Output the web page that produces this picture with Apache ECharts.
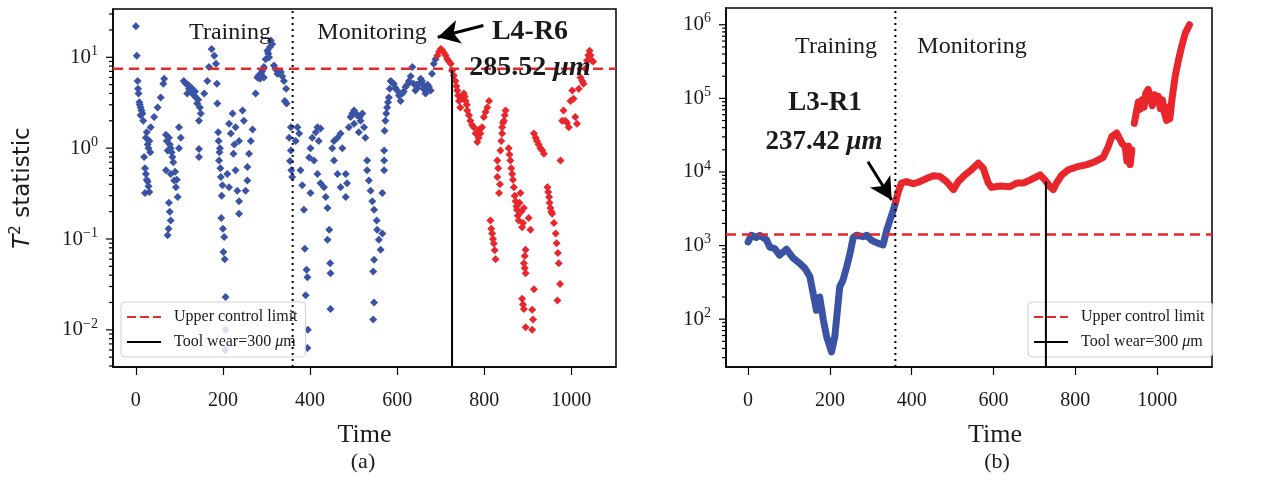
<!DOCTYPE html>
<html>
<head>
<meta charset="utf-8">
<script src="https://cdn.jsdelivr.net/npm/echarts@6/dist/echarts.min.js"></script>
<style>
  html, body { margin: 0; padding: 0; background: #fff; }
  #chart { width: 1279px; height: 484px; }
</style>
</head>
<body>
<div id="chart"></div>
<script>
// ---- data ----
var xTicks = [0, 200, 400, 600, 800, 1000];
var phaseSplit = 360;          // training / monitoring boundary
var uclA = 7.5, uclB = 1410;   // upper control limits
var wearA = [726, 7.2];        // tool wear = 300 um, (time, T2 at that time)
var wearB = [728, 7450];
var arrowA = [[798, 22.4], [693, 16.6]];
var arrowB = [[293, 13800], [351, 4170]];

// panel (a): scattered T2 values
var leftBlue = [
  [0,22],[2,10.4],[4,5.5],[5,4.5],[6,4.0],[8,3.2],[9,3.0],[11,2.8],[13,2.6],[15,2.4],[11,2.3],[17,2.0],
  [23,1.3],[25,1.5],[27,1.1],[29,1.0],[31,1.2],[33,0.9],[19,0.8],[21,0.6],
  [23,0.52],[25,0.45],[27,0.43],[29,0.38],[21,0.32],[31,0.33],[34,1.7],[42,2.2],[50,2.8],[57,3.6],[63,5.1],[65,5.8],
  [69,1.4],[71,1.2],[76,1.3],[78,1.1],[80,1.0],[73,0.94],[82,0.9],[84,0.8],[86,0.7],[69,0.57],[80,0.52],
  [90,0.55],[88,0.44],[94,0.45],[92,0.37],[96,0.29],
  [76,0.25],[78,0.2],[80,0.16],[75,0.13],[73,0.11],[99,1.7],[103,1.3],[99,1.0],
  [110,5.5],[115,5.1],[120,5.0],[122,4.5],[126,4.3],[128,4.6],[130,4.0],[134,3.8],[136,4.2],[138,3.6],
  [118,4.0],[141,3.1],[143,3.4],[147,2.8],[149,2.4],[145,2.0],[145,0.98],[145,0.8],
  [157,4.0],[164,5.5],[168,7.8],[174,12.3],[180,10.4],[184,8.5],[186,5.1],[187,3.1],
  [189,1.5],[190,1.2],[193,1.0],[192,0.9],[191,0.73],[194,0.6],[195,0.48],[199,0.39],[197,0.3],[196,0.17],
  [200,0.13],[203,0.105],[201,0.072],[204,0.06],
  [206,0.023],[206,0.01],[205,0.006],
  [214,1.85],[222,2.4],[229,1.7],[237,1.2],[245,2.6],[248,2.0],[218,1.45],[226,1.1],[224,0.87],[210,0.52],
  [214,0.37],[229,0.57],[233,0.34],[237,0.26],[237,0.19],[256,0.62],[260,0.87],[264,1.2],[268,1.6],
  [256,0.44],[252,0.34],
  [275,4.0],[279,6.0],[282,6.3],[285,5.8],[287,6.6],[290,7.0],[294,7.8],[294,6.0],[298,9.5],[302,11.8],
  [304,11],[306,10],[308,13],[310,15.3],[313,14],[317,8.1],[320,7.5],[325,6.6],[329,6.8],[333,6.9],
  [336,6.2],[340,5.5],[345,4.5],[342,3.3],[346,3.1],
  [356,1.7],[352,1.3],[356,0.94],[354,0.72],[357,0.57],[359,0.48],[371,1.7],[375,1.45],[367,1.2],
  [378,0.57],[382,0.39],[386,0.21],[388,0.078],[392,0.046],[394,0.038],[390,0.024],[395,0.01],[394,0.0063],
  [398,0.79],[401,1.0],[405,1.3],[413,1.5],[417,1.7],[424,1.65],[420,1.2],[409,0.73],[417,0.52],[401,0.32],
  [424,0.41],[432,0.37],[436,0.29],[440,0.22],[444,0.126],[440,0.098],[446,0.054],[447,0.042],[447,0.017],
  [451,1.0],[455,1.2],[463,1.3],[470,1.45],[474,1.0],[455,0.73],[463,0.52],[470,0.37],[482,0.52],
  [485,0.41],[482,0.29],[489,1.7],
  [493,2.2],[497,2.4],[501,2.6],[505,2.4],[508,2.3],[514,2.2],[516,2.0],[520,2.4],[524,1.7],[527,1.3],
  [501,1.85],[512,1.5],
  [531,0.73],[531,0.57],[535,0.44],[539,0.34],[543,0.26],[547,0.21],[553,0.16],[554,0.126],[558,0.098],
  [562,0.076],[566,0.115],[547,0.059],[545,0.044],[547,0.02],[545,0.013],[570,0.73],[570,0.57],[566,0.32],
  [570,0.94],[571,1.55],[573,2.0],[575,2.4],[577,2.8],[579,3.2],[581,3.6],[583,4.5],[585,5.5],[588,5.3],
  [592,5.1],[596,4.6],[600,4.3],[604,3.8],[608,3.3],[612,4.0],
  [615,4.2],[619,4.7],[623,5.0],[627,5.5],[631,6.2],[635,7.8],[638,5.1],[642,4.3],[645,5.0],[646,4.6],
  [650,5.1],[654,5.8],[657,5.5],[660,4.5],[661,4.9],[665,4.0],[669,4.4],[670,5.0],[673,4.7],[677,4.3],
  [680,6.6],[684,8.5],[688,9.5]
];
var leftRed = [
  [692,10.4],[696,11.5],[700,12.3],[703,12.0],[707,11.3],[711,10.5],[715,9.6],[719,9.0],[723,8.5],
  [726,7.1],[730,6.3],[734,5.5],[736,4.8],[738,4.3],[740,3.8],[742,3.3],[745,2.8],[749,3.5],[753,4.0],
  [755,3.7],[757,3.3],[760,3.0],[761,2.6],[765,2.3],[768,2.0],[772,1.8],[776,1.7],[780,1.45],[784,1.17],
  [787,1.3],[788,1.6],[791,1.45],[795,1.7],[799,2.2],[803,2.5],[807,2.8],[811,3.3],
  [814,0.16],[816,0.13],[818,0.115],[820,0.1],[822,0.089],[824,0.075],[826,0.06],[830,0.73],[832,0.6],
  [830,0.48],[836,0.4],[834,0.32],[837,0.94],[839,1.2],[841,1.45],[843,1.9],[847,2.3],
  [845,2.0],[849,2.6],[841,1.7],[856,1.0],[858,0.85],[860,0.73],[862,0.6],[864,0.52],[866,0.45],[868,0.37],
  [870,0.3],[872,0.26],[874,0.23],[875,0.21],[877,0.18],
  [879,0.16],[881,0.25],[885,0.2],[887,0.135],[889,0.15],[883,0.32],[891,0.22],[895,0.076],[893,0.065],
  [891,0.054],[893,0.048],[895,0.042],[887,0.022],[889,0.019],[891,0.017],
  [895,0.0107],[910,0.01],[912,0.013],[910,0.0166],[914,0.028],[902,0.17],[906,0.126],[914,1.45],[918,1.3],
  [921,1.2],[925,1.1],[929,1.0],[933,0.95],
  [937,0.87],[945,0.37],[947,0.33],[949,0.29],[950,0.25],[952,0.22],[954,0.2],[956,0.19],[960,0.15],
  [964,0.115],[966,0.09],[969,0.07],[971,0.054],[974,0.032],[968,0.021],
  [975,0.73],
  [979,2.0],[982,2.6],[986,2.0],[990,1.9],[994,1.7],[998,3.3],[1002,4.3],[1005,3.5],[1009,2.2],[1013,1.85],
  [1017,4.5],[1021,6.0],[1025,5.5],[1028,5.1],[1032,7.5],[1036,9.2],[1039,10.5],[1042,11.8],[1044,10.5],
  [1047,9.2],[1050,9.0]
];

// panel (b): continuous T2 trace
var rightBlue = [
  [0,1120],[8,1380],[20,1290],[29,1380],[45,1200],[53,955],[65,912],[77,741],[94,891],[110,676],
  [126,575],[139,490],[151,380],[159,224],[167,132],[175,200],[184,98],[192,58],[204,36],[212,58],
  [216,98],[224,275],[232,339],[241,513],[249,776],[257,1290],[265,1380],[281,1320],[290,1380],
  [302,1175],[318,1070],[330,1020],[339,1620],[347,2240],[355,3020],[361,3980]
];
var rightRed = [
  [361,3980],[367,5370],[375,7080],[387,7410],[404,6920],[420,7410],[436,8130],[453,8910],[469,8710],
  [485,7410],[502,5750],[514,7410],[530,9120],[546,10700],[563,13200],[575,11200],[587,7080],[595,6170],
  [616,6460],[640,6310],[657,7080],[673,7080],[689,7760],[714,9120],[726,7760],[738,6310],[746,5750],
  [754,7080],[767,9120],[783,10700],[803,11700],[828,12600],[848,13800],[868,15800],[880,21900],
  [889,30200],[901,33900],[914,24500],[922,21900],[926,14100],[930,22400],[934,12600],[938,20000]
];
var rightRedLate = [
  [944,45700],[950,69200],[954,89000],[958,70800],[963,95500],[968,75900],[972,117000],[978,132000],
  [983,105000],[988,79400],[993,112000],[998,89100],[1003,107000],[1008,72400],[1013,95500],[1018,63100],
  [1023,50100],[1027,75900],[1031,52500],[1036,95500],[1044,200000],[1052,331000],[1060,513000],
  [1069,776000],[1079,1000000]
];

// ---- axis extents (matplotlib style margins) ----
var axA = { xMin: -52.5, xMax: 1102.5, yMin: 0.0039, yMax: 34 };
var axB = { xMin: -54, xMax: 1134, yMin: 22.4, yMax: 1.69e6 };

var FONT = "'Liberation Serif', 'DejaVu Serif', serif";
var SANS = "'DejaVu Sans', sans-serif";
var INK = '#1a1a1a';
var BLUE = '#3a53a5';
var RED = '#e8262c';
var DASH_ICON = 'path://M0,0h9v2h-9zM13,0h9v2h-9zM26,0h8v2h-8z';
var LINE_ICON = 'path://M0,0h34v2h-34z';

function logTicks(ax) {
  var out = [];
  for (var k = -4; k <= 7; k++) {
    for (var m = 1; m <= 9; m++) {
      var v = m * Math.pow(10, k);
      if (v >= ax.yMin && v <= ax.yMax) out.push([ax.xMin, v, m === 1 ? 1 : 0]);
    }
  }
  return out;
}

function tickSeries(idx, ax) {
  return {
    type: 'custom', xAxisIndex: idx, yAxisIndex: idx, silent: true, clip: false, z: 5,
    encode: { x: 0, y: 1 },
    data: logTicks(ax),
    renderItem: function (params, api) {
      var p = api.coord([api.value(0), api.value(1)]);
      var len = api.value(2) ? 7 : 4;
      return { type: 'line', shape: { x1: p[0] - len, y1: p[1], x2: p[0], y2: p[1] },
        style: { stroke: '#000', lineWidth: 1.2 } };
    }
  };
}

function supLabel(v) {
  var e = Math.round(Math.log10(v));
  return '{b|10}{s|' + (e < 0 ? '\u2212' + (-e) : e) + '}';
}

function xAxis(idx, ax, namePad) {
  return {
    type: 'value', gridIndex: idx, min: ax.xMin, max: ax.xMax,
    name: 'Time', nameLocation: 'middle', nameGap: 55,
    nameTextStyle: { fontFamily: FONT, fontSize: 26, color: INK, padding: namePad },
    axisLine: { onZero: false, lineStyle: { color: '#000', width: 1.5 } },
    axisTick: { length: 8, lineStyle: { color: '#000', width: 1.2 }, customValues: xTicks },
    axisLabel: { fontFamily: FONT, fontSize: 20, color: INK, margin: 24, customValues: xTicks,
      formatter: function (v) { return String(v); } },
    splitLine: { show: false }
  };
}

function yAxis(idx, ax) {
  return {
    type: 'log', gridIndex: idx, min: ax.yMin, max: ax.yMax, logBase: 10,
    axisLine: { onZero: false, lineStyle: { color: '#000', width: 1.5 } },
    axisTick: { show: false },
    axisLabel: {
      margin: 15, showMinLabel: false, showMaxLabel: false, formatter: supLabel,
      rich: {
        b: { fontFamily: FONT, fontSize: 21, color: INK, lineHeight: 26 },
        s: { fontFamily: FONT, fontSize: 14, color: INK, verticalAlign: 'top', lineHeight: 26 }
      }
    },
    splitLine: { show: false }
  };
}

function guideLines(idx, ax, ucl, wear, arrow) {
  return [
    {
      name: 'Upper control limit', type: 'line', xAxisIndex: idx, yAxisIndex: idx, symbol: 'none', z: 4,
      data: [[ax.xMin, ucl], [ax.xMax, ucl]],
      lineStyle: { color: RED, width: 2.5, type: [10, 6] }, itemStyle: { color: RED }
    },
    {
      name: 'Tool wear=300 \u03bcm', type: 'line', xAxisIndex: idx, yAxisIndex: idx, symbol: 'none', z: 4,
      data: [[wear[0], ax.yMin], wear],
      lineStyle: { color: '#000', width: 2 }, itemStyle: { color: '#000' }
    },
    {
      name: 'phase', type: 'line', xAxisIndex: idx, yAxisIndex: idx, symbol: 'none', z: 4,
      data: [[phaseSplit, ax.yMin], [phaseSplit, ax.yMax]],
      lineStyle: { color: '#000', width: 2, type: [2, 4] },
      markLine: {
        silent: true, symbol: ['none', 'arrow'], symbolSize: [18, 22],
        lineStyle: { color: '#000', width: 3, type: 'solid' }, label: { show: false },
        data: [[{ coord: arrow[0] }, { coord: arrow[1] }]]
      }
    }
  ];
}

function legend(left) {
  return {
    left: left, top: 302, orient: 'vertical', selectedMode: false,
    data: [
      { name: 'Upper control limit', icon: DASH_ICON },
      { name: 'Tool wear=300 \u03bcm', icon: LINE_ICON }
    ],
    backgroundColor: 'rgba(255,255,255,0.82)', borderColor: '#cfcfcf', borderWidth: 1, borderRadius: 4,
    padding: [7, 8, 7, 6], itemGap: 9, itemWidth: 34, itemHeight: 2.5,
    formatter: function (n) { return n.indexOf('Tool') === 0 ? 'Tool wear=300 {i|\u03bc}m' : n; },
    textStyle: {
      fontFamily: FONT, fontSize: 16, color: INK, padding: [0, 0, 0, 8],
      rich: { i: { fontFamily: FONT, fontSize: 16, color: INK, fontStyle: 'italic' } }
    }
  };
}

function label(x, y, text, size, bold) {
  return {
    type: 'text', x: x, y: y, z: 10,
    style: {
      text: text, fontFamily: FONT, fontSize: size, fontWeight: bold ? 'bold' : 'normal', fill: INK,
      align: 'center', verticalAlign: 'middle',
      rich: { i: { fontFamily: FONT, fontSize: size, fontWeight: 'bold', fontStyle: 'italic', fill: INK } }
    }
  };
}

var chart = echarts.init(document.getElementById('chart'), null, { renderer: 'canvas' });
chart.setOption({
  animation: false,
  backgroundColor: '#fff',
  grid: [
    { left: 113, top: 9, width: 503, height: 358, show: true, borderColor: '#000', borderWidth: 1.5 },
    { left: 726, top: 8, width: 486, height: 359, show: true, borderColor: '#000', borderWidth: 1.5 }
  ],
  xAxis: [xAxis(0, axA, [0, 0, 0, 0]), xAxis(1, axB, [0, 0, 0, 52])],
  yAxis: [
    Object.assign(yAxis(0, axA), {
      name: '{it|T}{sup|2} statistic', nameLocation: 'middle', nameGap: 76, nameRotate: 90,
      nameTextStyle: {
        fontFamily: SANS, fontSize: 23, color: INK,
        rich: {
          it: { fontFamily: SANS, fontSize: 23, fontStyle: 'italic', color: INK },
          sup: { fontFamily: SANS, fontSize: 15, color: INK, verticalAlign: 'top', lineHeight: 28 }
        }
      }
    }),
    yAxis(1, axB)
  ],
  legend: [legend(121), legend(1028)],
  series: [
    { name: 'blueA', type: 'scatter', xAxisIndex: 0, yAxisIndex: 0, symbol: 'diamond', symbolSize: 8,
      data: leftBlue, itemStyle: { color: BLUE, opacity: 1 }, z: 2 },
    { name: 'redA', type: 'scatter', xAxisIndex: 0, yAxisIndex: 0, symbol: 'diamond', symbolSize: 8,
      data: leftRed, itemStyle: { color: RED, opacity: 1 }, z: 2 },
    { name: 'blueB', type: 'line', xAxisIndex: 1, yAxisIndex: 1, symbol: 'none', data: rightBlue,
      lineStyle: { color: BLUE, width: 7, join: 'round', cap: 'round' }, z: 2 },
    { name: 'redB', type: 'line', xAxisIndex: 1, yAxisIndex: 1, symbol: 'none', data: rightRed,
      lineStyle: { color: RED, width: 7, join: 'round', cap: 'round' }, z: 2 },
    { name: 'redB2', type: 'line', xAxisIndex: 1, yAxisIndex: 1, symbol: 'none', data: rightRedLate,
      lineStyle: { color: RED, width: 7, join: 'round', cap: 'round' }, z: 2 }
  ].concat(guideLines(0, axA, uclA, wearA, arrowA))
   .concat(guideLines(1, axB, uclB, wearB, arrowB))
   .concat([tickSeries(0, axA), tickSeries(1, axB)]),
  graphic: [
    label(230, 33, 'Training', 24),
    label(372, 33, 'Monitoring', 24),
    label(530, 32, 'L4-R6', 28, true),
    label(530, 68, '285.52 {i|\u03bcm}', 28, true),
    label(836, 47, 'Training', 24),
    label(972, 47, 'Monitoring', 24),
    label(825, 103, 'L3-R1', 27, true),
    label(824, 142, '237.42 {i|\u03bcm}', 27, true),
    label(363, 462, '(a)', 22),
    label(997, 462, '(b)', 22)
  ]
});
window.addEventListener('resize', function () { chart.resize(); });
</script>
</body>
</html>
